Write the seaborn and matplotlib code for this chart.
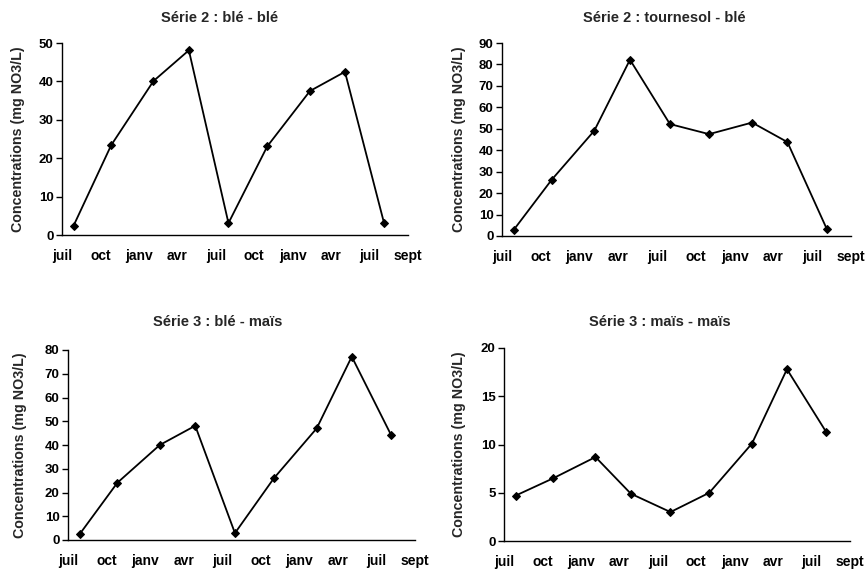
import matplotlib
matplotlib.use("Agg")
import matplotlib.pyplot as plt
import seaborn as sns
import pandas as pd

sns.set_style("white")
plt.rcParams['font.family'] = ['Liberation Sans', 'DejaVu Sans']
plt.rcParams['font.weight'] = 'bold'

# x positions in quarter-units from the first July
sample_pos = [0.30, 1.28, 2.38, 3.30, 4.33, 5.34, 6.45, 7.36, 8.38]
tick_labels = ["juil", "oct", "janv", "avr", "juil", "oct", "janv", "avr", "juil", "sept"]

titles = ["Série 2 : blé - blé", "Série 2 : tournesol - blé",
          "Série 3 : blé - maïs", "Série 3 : maïs - maïs"]
ble_ble = [2.4, 23.4, 40.1, 48.1, 3.1, 23.1, 37.5, 42.5, 3.0]
tournesol_ble = [2.8, 26.2, 49.1, 82.2, 52.2, 47.5, 52.9, 43.8, 3.1]
ble_mais = [2.4, 24.1, 40.0, 48.1, 2.9, 26.0, 47.0, 77.2, 44.2]
mais_mais = [4.7, 6.5, 8.7, 4.9, 3.0, 5.0, 10.1, 17.8, 11.3]
series = [ble_ble, tournesol_ble, ble_mais, mais_mais]
ymax = [50, 90, 80, 20]
ystep = [10, 10, 10, 5]

W, H = 868, 571
fig = plt.figure(figsize=(W / 100, H / 100), dpi=100)

# pixel boxes: left, right, top, bottom
boxes = [(62, 408, 43, 235), (502, 851, 43, 236), (68, 415, 350, 540), (504, 850, 348, 541)]
title_pos = [(220, 18), (664, 18), (218, 322), (660, 322)]
ylabel_x = [25, 466, 27, 466]

for i in range(4):
    l, r, t, b = boxes[i]
    ax = fig.add_axes([l / W, 1 - b / H, (r - l) / W, (b - t) / H])
    df = pd.DataFrame({"x": sample_pos, "y": series[i]})
    sns.lineplot(data=df, x="x", y="y", ax=ax, color="black", linewidth=1.3,
                 marker="D", markersize=4.5, markeredgecolor="black")
    ax.set_xlim(0, 9)
    ax.set_ylim(0, ymax[i])
    ax.set_xticks(range(10))
    ax.set_xticklabels(tick_labels)
    ax.set_yticks(range(0, ymax[i] + 1, ystep[i]))
    for s in ["top", "right"]:
        ax.spines[s].set_visible(False)
    for s in ["left", "bottom"]:
        ax.spines[s].set_color("black")
        ax.spines[s].set_linewidth(1.0)
    ax.tick_params(axis="x", direction="inout", length=6, width=1, pad=7,
                   labelsize=10, colors="black")
    ax.tick_params(axis="y", direction="out", length=4, width=1, pad=2,
                   labelsize=9.5, colors="black", left=True)
    for lab in ax.get_xticklabels() + ax.get_yticklabels():
        lab.set_fontweight("bold")
    ax.set_xlabel("")
    ax.set_ylabel("Concentrations (mg NO3/L)", fontsize=10.3, fontweight="bold")
    ax.yaxis.set_label_coords((ylabel_x[i] - l) / (r - l), 0.5)
    tx, ty = title_pos[i]
    fig.text(tx / W, 1 - ty / H, titles[i], ha="center", va="center",
             fontsize=10.5, fontweight="bold")

fig.savefig("out.png", dpi=100)
